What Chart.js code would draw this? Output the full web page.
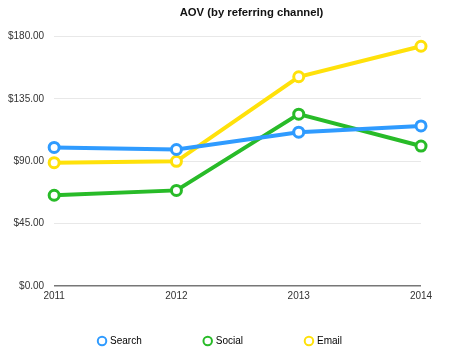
<!DOCTYPE html>
<html>
<head>
<meta charset="utf-8">
<script src="https://cdn.jsdelivr.net/npm/chart.js@4/dist/chart.umd.min.js"></script>
<style>
  html, body { margin: 0; padding: 0; background: #fff; }
  #wrap { width: 450px; height: 354px; }
</style>
</head>
<body>
<div id="wrap"><canvas id="aovChart"></canvas></div>
<script>
// Data
const years = ['2011', '2012', '2013', '2014'];
const searchAov = [100, 98.5, 111, 115.5];
const socialAov = [65.5, 69, 124, 101];
const emailAov = [89, 90, 151, 173];

const yTicks = [0, 45, 90, 135, 180];

function series(label, data, color) {
    return {
        label: label,
        data: data,
        borderColor: color,
        backgroundColor: color,
        borderWidth: 4,
        pointRadius: 5,
        pointBorderWidth: 3,
        pointBackgroundColor: '#fff',
        pointBorderColor: color,
        tension: 0
    };
}

// Wide gaps between legend items without the tall box that the padding would give,
// and title / legend nudged right like in the original
const layoutTweaks = {
    id: 'layoutTweaks',
    beforeInit(chart) {
        const legend = chart.legend;
        const fit = legend.fit;
        const draw = legend.draw;
        legend.fit = function () {
            fit.call(this);
            this._shift = this.height - 50;
            this.height = 50;
        };
        legend.draw = function (area) {
            this.top -= this._shift;
            this.left += 11;
            this.right += 11;
            draw.call(this, area);
            this.top += this._shift;
            this.left -= 11;
            this.right -= 11;
        };
    },
    afterLayout(chart) {
        const title = chart.titleBlock;
        title.left += 42;
        title.right += 42;
    }
};

Chart.defaults.font.family = '"Liberation Sans", Arial, Helvetica, sans-serif';
Chart.defaults.color = '#333';

new Chart(document.getElementById('aovChart'), {
    type: 'line',
    data: {
        labels: years,
        datasets: [
            series('Search', searchAov, '#2f9bff'),
            series('Social', socialAov, '#28bb28'),
            series('Email', emailAov, '#ffe10a')
        ]
    },
    plugins: [layoutTweaks],
    options: {
        responsive: true,
        maintainAspectRatio: false,
        animation: false,
        layout: { padding: { left: -2, right: 29, top: 4, bottom: -2 } },
        plugins: {
            title: {
                display: true,
                text: 'AOV (by referring channel)',
                color: '#111',
                font: { size: 11.3, weight: 'bold' },
                padding: { top: 2, bottom: 17 }
            },
            legend: {
                position: 'bottom',
                labels: {
                    usePointStyle: true,
                    pointStyle: 'circle',
                    boxWidth: 6,
                    boxHeight: 6,
                    padding: 63,
                    font: { size: 10 },
                    generateLabels: chart => chart.data.datasets.map((ds, i) => ({
                        text: ds.label,
                        fillStyle: '#fff',
                        strokeStyle: ds.borderColor,
                        lineWidth: 2,
                        pointStyle: 'circle',
                        datasetIndex: i
                    }))
                }
            },
            tooltip: { enabled: false }
        },
        scales: {
            x: {
                offset: false,
                grid: { display: false, drawTicks: false },
                border: { display: false },
                ticks: { font: { size: 10 }, padding: 4, maxRotation: 0 }
            },
            y: {
                min: 0,
                max: 180,
                afterBuildTicks: axis => { axis.ticks = yTicks.map(v => ({ value: v })); },
                grid: {
                    color: ctx => ctx.tick && ctx.tick.value === 0 ? '#777' : '#e8e8e8',
                    lineWidth: ctx => ctx.tick && ctx.tick.value === 0 ? 1.5 : 1,
                    drawTicks: false
                },
                border: { display: false },
                ticks: {
                    font: { size: 10 },
                    padding: 10,
                    callback: v => '$' + v.toFixed(2)
                }
            }
        }
    }
});
</script>
</body>
</html>
